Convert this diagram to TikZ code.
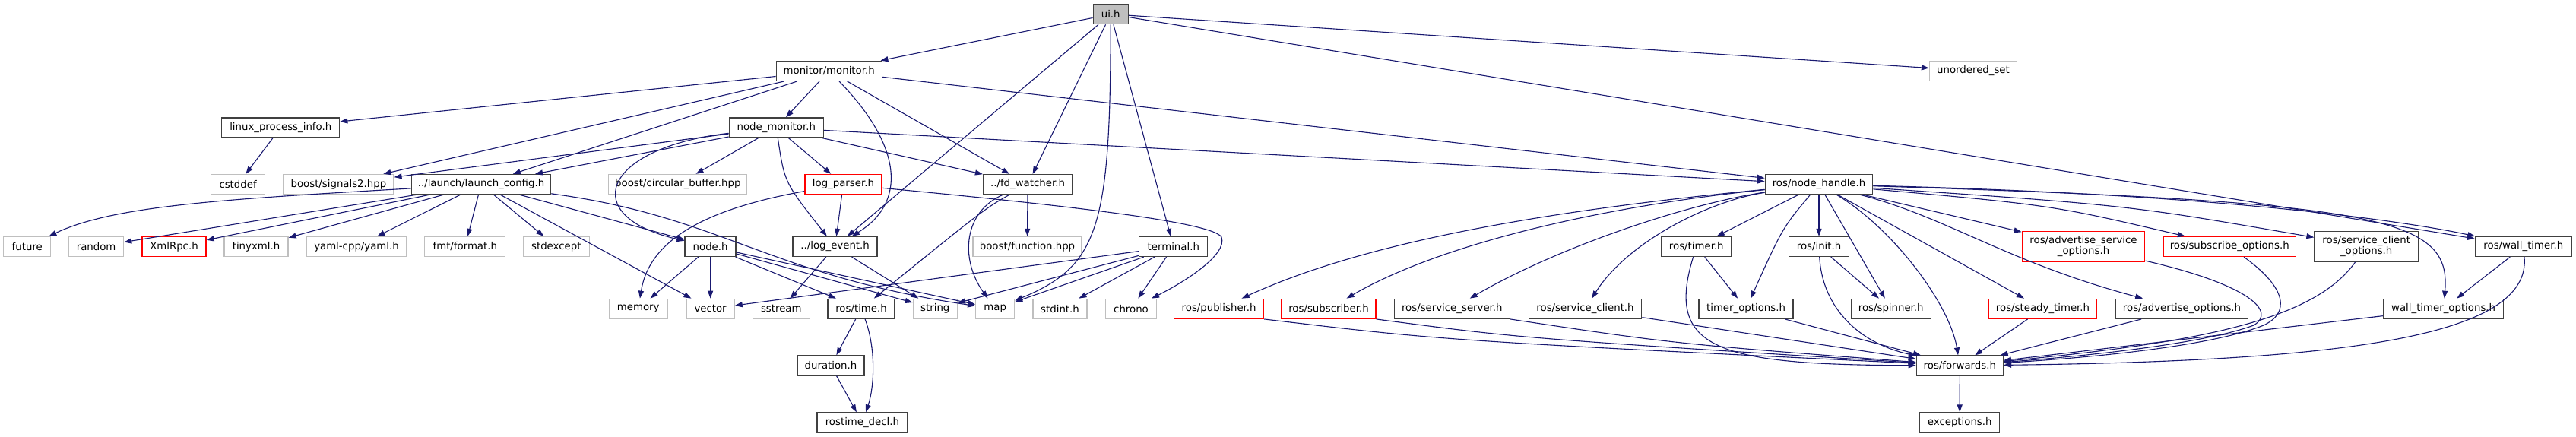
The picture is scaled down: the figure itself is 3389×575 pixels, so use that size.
\documentclass[tikz,border=0pt]{standalone}
\usepackage{fontspec}
\setmainfont{DejaVu Sans}
\usetikzlibrary{arrows.meta}
\definecolor{edgec}{HTML}{191970}
\definecolor{docb}{HTML}{404040}
\definecolor{extb}{HTML}{BFBFBF}
\definecolor{redb}{HTML}{FF0000}
\begin{document}
\begin{tikzpicture}[x=1pt,y=-1pt,
 box/.style={draw=docb, line width=1.3pt, minimum height=26pt, inner sep=0pt, align=center, font=\fontsize{13.3}{14}\selectfont},
 extbox/.style={box, draw=extb},
 redbox/.style={box, draw=redb},
 curbox/.style={box, fill=extb},
 tall/.style={minimum height=40pt},
 dep/.style={draw=edgec, line width=1.1pt, -{Triangle[length=10pt,width=7pt]}}]
\useasboundingbox (0,0) rectangle (3389,575);
% row 0
\node[curbox, minimum width=46pt] (ui) at (1461.2,18.7) {ui.h};
% row 1
\node[box, minimum width=139pt] (monitor) at (1090.7,93.3) {monitor/monitor.h};
\node[extbox, minimum width=115pt] (unordered) at (2596,93.3) {unordered\_set};
% row 2
\node[box, minimum width=155pt] (linux) at (369.2,168) {linux\_process\_info.h};
\node[box, minimum width=124pt] (nodemon) at (1021.3,168) {node\_monitor.h};
% row 3
\node[extbox, minimum width=71pt] (cstddef) at (313.1,242.5) {cstddef};
\node[extbox, minimum width=145pt] (signals2) at (445.4,242.5) {boost/signals2.hpp};
\node[box, minimum width=183pt] (launch) at (633,242.5) {../launch/launch\_config.h};
\node[extbox, minimum width=182pt] (circbuf) at (891.8,242.5) {boost/circular\_buffer.hpp};
\node[redbox, minimum width=101pt] (logparser) at (1109.4,242.5) {log\_parser.h};
\node[box, minimum width=117pt] (fdwatcher) at (1352,242.5) {../fd\_watcher.h};
\node[box, minimum width=141.5pt] (nodehandle) at (2393,242.5) {ros/node\_handle.h};
% row 4
\node[extbox, minimum width=62pt] (future) at (35.8,324.5) {future};
\node[extbox, minimum width=72pt] (random) at (126.6,324.5) {random};
\node[redbox, minimum width=84pt] (xmlrpc) at (229,324.5) {XmlRpc.h};
\node[extbox, minimum width=84pt] (tinyxml) at (337,324.5) {tinyxml.h};
\node[extbox, minimum width=132pt] (yaml) at (469,324.5) {yaml-cpp/yaml.h};
\node[extbox, minimum width=106pt] (fmt) at (611.8,324.5) {fmt/format.h};
\node[extbox, minimum width=87pt] (stdexcept) at (731.8,324.5) {stdexcept};
\node[box, minimum width=67pt] (nodeh) at (934.6,324.5) {node.h};
\node[box, minimum width=111pt] (logevent) at (1098.6,324.5) {../log\_event.h};
\node[extbox, minimum width=143pt] (boostfunc) at (1351.5,324.5) {boost/function.hpp};
\node[box, minimum width=90pt] (terminal) at (1543.8,324.5) {terminal.h};
\node[box, minimum width=92pt] (rostimer) at (2231.8,324.5) {ros/timer.h};
\node[box, minimum width=78.6pt] (rosinit) at (2393,324.5) {ros/init.h};
\node[redbox, tall, minimum width=161.6pt] (advsvc) at (2741,324.3) {ros/advertise\_service\\\_options.h};
\node[redbox, minimum width=174pt] (subopts) at (2933.2,324.5) {ros/subscribe\_options.h};
\node[box, tall, minimum width=136.4pt] (svcclientopts) at (3113.2,324.3) {ros/service\_client\\\_options.h};
\node[box, minimum width=127pt] (walltimer) at (3319.8,324.5) {ros/wall\_timer.h};
% row 5
\node[extbox, minimum width=77pt] (memory) at (839.7,406.3) {memory};
\node[extbox, minimum width=63pt] (vector) at (934.6,406.3) {vector};
\node[extbox, minimum width=75pt] (sstream) at (1027.8,406.3) {sstream};
\node[box, minimum width=88pt] (rostime) at (1133,406.3) {ros/time.h};
\node[extbox, minimum width=58pt] (string) at (1230.3,406.3) {string};
\node[extbox, minimum width=51pt] (map) at (1309.2,406.3) {map};
\node[extbox, minimum width=71pt] (stdint) at (1394.5,406.3) {stdint.h};
\node[extbox, minimum width=67pt] (chrono) at (1488,406.3) {chrono};
\node[redbox, minimum width=118pt] (publisher) at (1603.6,406.3) {ros/publisher.h};
\node[redbox, minimum width=124pt] (subscriber) at (1748,406.3) {ros/subscriber.h};
\node[box, minimum width=152pt] (svcserver) at (1910.3,406.3) {ros/service\_server.h};
\node[box, minimum width=148.5pt] (svcclient) at (2085.5,406.3) {ros/service\_client.h};
\node[box, minimum width=124pt] (timeropts) at (2297,406.3) {timer\_options.h};
\node[box, minimum width=105pt] (spinner) at (2487.7,406.3) {ros/spinner.h};
\node[redbox, minimum width=142.3pt] (steady) at (2687.5,406.3) {ros/steady\_timer.h};
\node[box, minimum width=174.4pt] (advopts) at (2870.5,406.3) {ros/advertise\_options.h};
\node[box, minimum width=158.4pt] (walltimeropts) at (3214.6,406.3) {wall\_timer\_options.h};
% row 6
\node[box, minimum width=88pt] (duration) at (1093,481) {duration.h};
\node[box, minimum width=114pt] (forwards) at (2578.3,481) {ros/forwards.h};
% row 7
\node[box, minimum width=119pt] (rostimedecl) at (1134.4,556) {rostime\_decl.h};
\node[box, minimum width=105pt] (exceptions) at (2578.2,556) {exceptions.h};

% ui.h
\draw[dep] (ui) -- (monitor);
\draw[dep] (ui) -- (unordered);
\draw[dep] (ui) -- (fdwatcher);
\draw[dep] (ui) -- (logevent);
\draw[dep] (ui) .. controls (1461,300) and (1445,350) .. (map);
\draw[dep] (ui) -- (terminal);
\draw[dep] (ui) -- (walltimer);
% monitor.h
\draw[dep] (monitor) -- (linux);
\draw[dep] (monitor) -- (signals2);
\draw[dep] (monitor) -- (launch);
\draw[dep] (monitor) -- (nodemon);
\draw[dep] (monitor) .. controls (1185,190) and (1195,265) .. (logevent);
\draw[dep] (monitor) -- (fdwatcher);
\draw[dep] (monitor) -- (nodehandle);
% linux_process_info.h
\draw[dep] (linux) -- (cstddef);
% node_monitor.h
\draw[dep] (nodemon) -- (signals2);
\draw[dep] (nodemon) -- (launch);
\draw[dep] (nodemon) .. controls (790,195) and (760,285) .. (nodeh);
\draw[dep] (nodemon) -- (circbuf);
\draw[dep] (nodemon) -- (logparser);
\draw[dep] (nodemon) -- (fdwatcher);
\draw[dep] (nodemon) .. controls (1032,240) .. (logevent);
\draw[dep] (nodemon) -- (nodehandle);
% launch_config.h
\draw[dep] (launch) .. controls (300,262) and (150,270) .. (future);
\draw[dep] (launch) -- (random);
\draw[dep] (launch) -- (xmlrpc);
\draw[dep] (launch) -- (tinyxml);
\draw[dep] (launch) -- (yaml);
\draw[dep] (launch) -- (fmt);
\draw[dep] (launch) -- (stdexcept);
\draw[dep] (launch) -- (nodeh);
\draw[dep] (launch) -- (vector);
\draw[dep] (launch) .. controls (950,285) and (1010,362) .. (map);
% log_parser.h
\draw[dep] (logparser) .. controls (900,280) and (852,330) .. (memory);
\draw[dep] (logparser) -- (logevent);
\draw[dep] (logparser) .. controls (1400,270) and (1595,292) .. (1607,312) .. controls (1615,335) and (1560,370) .. (chrono);
% fd_watcher.h
\draw[dep] (fdwatcher) -- (boostfunc);
\draw[dep] (fdwatcher) .. controls (1268,278) and (1262,340) .. (map);
\draw[dep] (fdwatcher) .. controls (1295,275) .. (rostime);
% node.h
\draw[dep] (nodeh) -- (memory);
\draw[dep] (nodeh) -- (vector);
\draw[dep] (nodeh) -- (rostime);
\draw[dep] (nodeh) -- (string);
\draw[dep] (nodeh) -- (map);
% log_event.h
\draw[dep] (logevent) -- (sstream);
\draw[dep] (logevent) -- (string);
% terminal.h
\draw[dep] (terminal) -- (vector);
\draw[dep] (terminal) -- (string);
\draw[dep] (terminal) -- (map);
\draw[dep] (terminal) -- (stdint);
\draw[dep] (terminal) -- (chrono);
% ros/time.h
\draw[dep] (rostime) -- (duration);
\draw[dep] (rostime) .. controls (1153,460) and (1150,510) .. (rostimedecl);
\draw[dep] (duration) -- (rostimedecl);
% node_handle.h
\draw[dep] (nodehandle) .. controls (1950,285) and (1760,335) .. (publisher);
\draw[dep] (nodehandle) .. controls (2120,270) and (1900,318) .. (subscriber);
\draw[dep] (nodehandle) .. controls (2220,268) and (2050,325) .. (svcserver);
\draw[dep] (nodehandle) .. controls (2245,265) and (2140,320) .. (svcclient);
\draw[dep] (nodehandle) -- (rostimer);
\draw[dep] (nodehandle) .. controls (2345,300) .. (timeropts);
\draw[dep] (nodehandle) -- (rosinit);
\draw[dep] (nodehandle) -- (spinner);
\draw[dep] (nodehandle) .. controls (2490,300) and (2565,400) .. (forwards);
\draw[dep] (nodehandle) -- (steady);
\draw[dep] (nodehandle) .. controls (2560,285) and (2640,345) .. (advopts);
\draw[dep] (nodehandle) -- (advsvc);
\draw[dep] (nodehandle) .. controls (2700,270) .. (subopts);
\draw[dep] (nodehandle) .. controls (2800,270) .. (svcclientopts);
\draw[dep] (nodehandle) .. controls (2900,255) and (3150,288) .. (walltimer);
\draw[dep] (nodehandle) .. controls (3130,266) and (3225,285) .. (walltimeropts);
% to forwards
\draw[dep] (publisher.south east) .. controls (1900,448) .. (forwards);
\draw[dep] (subscriber.south east) .. controls (2000,445) .. (forwards);
\draw[dep] (svcserver.south east) .. controls (2200,452) .. (forwards);
\draw[dep] (svcclient) -- (forwards);
\draw[dep] (rostimer) -- (timeropts);
\draw[dep] (rostimer) .. controls (2190,460) and (2260,480) .. (forwards);
\draw[dep] (timeropts) -- (forwards);
\draw[dep] (rosinit) -- (spinner);
\draw[dep] (rosinit) .. controls (2397,400) and (2440,450) .. (forwards);
\draw[dep] (steady) -- (forwards);
\draw[dep] (advopts) -- (forwards);
\draw[dep] (advsvc) .. controls (2960,375) and (2995,410) .. (2965,428) .. controls (2900,452) and (2750,468) .. (forwards);
\draw[dep] (subopts) .. controls (3010,380) and (3012,412) .. (2978,428) .. controls (2910,455) and (2760,470) .. (forwards);
\draw[dep] (svcclientopts) .. controls (3045,420) and (2900,450) .. (forwards);
\draw[dep] (walltimer) -- (walltimeropts);
\draw[dep] (walltimer) .. controls (3330,440) and (3100,475) .. (forwards);
\draw[dep] (walltimeropts) -- (forwards);
\draw[dep] (forwards) -- (exceptions);
\end{tikzpicture}
\end{document}
